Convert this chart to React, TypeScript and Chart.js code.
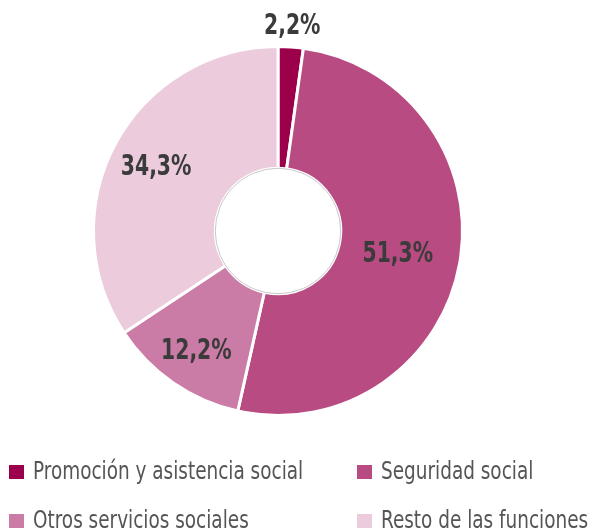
import React, { useEffect, useRef } from "react";
import { Chart, registerables } from "chart.js";

Chart.register(...registerables);

const categories = [
  "Promoción y asistencia social",
  "Seguridad social",
  "Otros servicios sociales",
  "Resto de las funciones",
];
const values = [2.2, 51.3, 12.2, 34.3];
const valueLabels = ["2,2%", "51,3%", "12,2%", "34,3%"];
const colors = ["#9C004A", "#B84C82", "#CB7CA6", "#EBCBDC"];
const labelRadius = [1.12, 0.66, 0.78, 0.75];

const FONT = '"DejaVu Sans Condensed", "DejaVu Sans", sans-serif';

const labelPlugin = {
  id: "sliceLabels",
  afterDatasetsDraw(chart: any) {
    const ctx = chart.ctx;
    const meta = chart.getDatasetMeta(0);
    meta.data.forEach((arc: any, i: number) => {
      const p = arc.getProps(["x", "y", "startAngle", "endAngle", "outerRadius", "innerRadius"], true);
      const mid = (p.startAngle + p.endAngle) / 2;
      const r = p.outerRadius * labelRadius[i];
      const x = p.x + Math.cos(mid) * r;
      const y = p.y + Math.sin(mid) * r + 2;
      ctx.save();
      ctx.translate(x, y);
      ctx.scale(0.78, 1);
      ctx.font = `bold 29px ${FONT}`;
      ctx.fillStyle = "#3b3b3b";
      ctx.textAlign = "center";
      ctx.textBaseline = "middle";
      ctx.fillText(valueLabels[i], 0, 0);
      ctx.restore();
    });
    const a = meta.data[0];
    if (a) {
      ctx.save();
      ctx.beginPath();
      ctx.arc(a.x, a.y, a.innerRadius, 0, Math.PI * 2);
      ctx.strokeStyle = "#c8c8c8";
      ctx.lineWidth = 1;
      ctx.stroke();
      ctx.restore();
    }
  },
};

export default function App() {
  const ref = useRef<HTMLCanvasElement>(null);
  useEffect(() => {
    const chart = new Chart(ref.current!, {
      type: "doughnut",
      data: {
        labels: categories,
        datasets: [
          {
            data: values,
            backgroundColor: colors,
            borderColor: "#ffffff",
            borderWidth: 3,
          },
        ],
      },
      options: {
        animation: false,
        responsive: false,
        cutout: "34%",
        layout: { padding: { left: 92, right: 128, top: 45, bottom: 114 } },
        plugins: { legend: { display: false }, tooltip: { enabled: false } },
      },
      plugins: [labelPlugin],
    });
    return () => chart.destroy();
  }, []);

  const legendItem = (i: number, left: number, top: number) => (
    <div key={i} style={{ position: "absolute", left, top, height: 30, width: 260 }}>
      <span
        style={{
          position: "absolute",
          left: 0,
          top: 9,
          width: 15,
          height: 14,
          background: colors[i],
        }}
      />
      <span
        style={{
          position: "absolute",
          left: 24,
          top: 0,
          fontFamily: FONT,
          fontSize: 25,
          lineHeight: "30px",
          color: "#555555",
          whiteSpace: "nowrap",
          transform: "scaleX(0.82)",
          transformOrigin: "left center",
        }}
      >
        {categories[i]}
      </span>
    </div>
  );

  return (
    <div style={{ position: "fixed", left: 0, top: 0, width: 592, height: 531, background: "#fff", overflow: "hidden" }}>
      <canvas ref={ref} width={592} height={531} style={{ position: "absolute", left: 0, top: 0 }} />
      {legendItem(0, 9, 456)}
      {legendItem(1, 357, 456)}
      {legendItem(2, 9, 505)}
      {legendItem(3, 357, 505)}
    </div>
  );
}
